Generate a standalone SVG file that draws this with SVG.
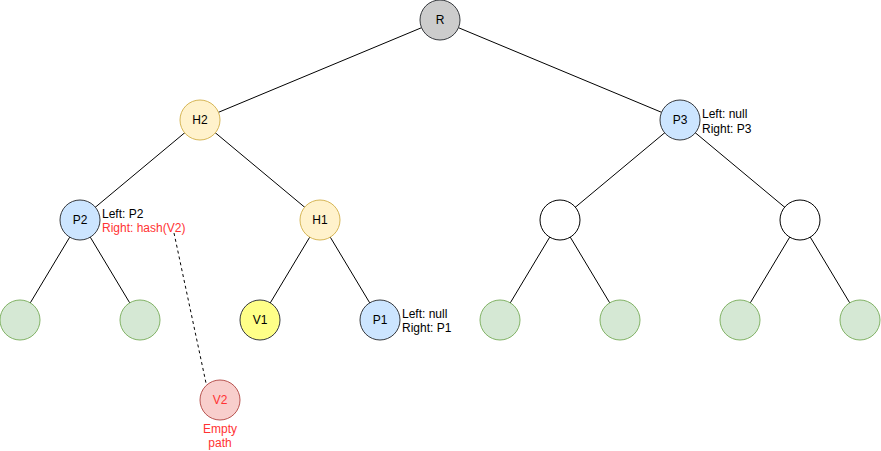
<svg xmlns="http://www.w3.org/2000/svg" width="881" height="451" viewBox="0 0 881 451">
<style>
.e{stroke:#000;stroke-width:1;fill:none}
circle{stroke-width:1}
.t{font-family:"Liberation Sans",Arial,sans-serif;font-size:12px}
.c{text-anchor:middle;dominant-baseline:central}
.g{fill:#d5e8d4;stroke:#82b366}
.b{fill:#cce5ff;stroke:#36393d}
.y{fill:#fff2cc;stroke:#d6b656}
.w{fill:#fff;stroke:#000}
.r{fill:#FF3333}
</style>
<rect width="881" height="451" fill="#fff"/>
<g id="connectors">
<path class="e" d="M440 20L200 120M440 20L680 120M200 120L80 220M200 120L320 220M680 120L560 220M680 120L800 220M80 220L20 320M80 220L140 320M320 220L260 320M320 220L380 320M560 220L500 320M560 220L620 320M800 220L740 320M800 220L860 320"/>
<path class="e" d="M174 233L206 383" stroke-dasharray="3 3"/>
</g>
<g id="R"><circle cx="440" cy="20" r="20" fill="#cccccc" stroke="#36393d"/><text class="t c" x="440" y="20">R</text></g>
<g id="H2"><circle class="y" cx="200" cy="120" r="20"/><text class="t c" x="200" y="120">H2</text></g>
<g id="P3"><circle class="b" cx="680" cy="120" r="20"/><text class="t c" x="680" y="120">P3</text>
<text class="t" x="702" y="118">Left: null</text><text class="t" x="702" y="133">Right: P3</text></g>
<g id="P2"><circle class="b" cx="80" cy="220" r="20"/><text class="t c" x="80" y="220">P2</text>
<text class="t" x="102" y="218">Left: P2</text><text class="t r" x="102" y="232">Right: hash(V2)</text></g>
<g id="H1"><circle class="y" cx="320" cy="220" r="20"/><text class="t c" x="320" y="220">H1</text></g>
<g id="N1"><circle class="w" cx="560" cy="220" r="20"/></g>
<g id="N2"><circle class="w" cx="800" cy="220" r="20"/></g>
<g id="L1"><circle class="g" cx="20" cy="320" r="20"/></g>
<g id="L2"><circle class="g" cx="140" cy="320" r="20"/></g>
<g id="V1"><circle cx="260" cy="320" r="20" fill="#ffff88" stroke="#36393d"/><text class="t c" x="260" y="320">V1</text></g>
<g id="P1"><circle class="b" cx="380" cy="320" r="20"/><text class="t c" x="380" y="320">P1</text>
<text class="t" x="402" y="318">Left: null</text><text class="t" x="402" y="332">Right: P1</text></g>
<g id="L5"><circle class="g" cx="500" cy="320" r="20"/></g>
<g id="L6"><circle class="g" cx="620" cy="320" r="20"/></g>
<g id="L7"><circle class="g" cx="740" cy="320" r="20"/></g>
<g id="L8"><circle class="g" cx="860" cy="320" r="20"/></g>
<g id="V2"><circle cx="220" cy="400" r="20" fill="#f8cecc" stroke="#b85450"/><text class="t c r" x="220" y="400">V2</text>
<text class="t r" x="220" y="433" text-anchor="middle">Empty</text><text class="t r" x="220" y="447" text-anchor="middle">path</text></g>
</svg>
